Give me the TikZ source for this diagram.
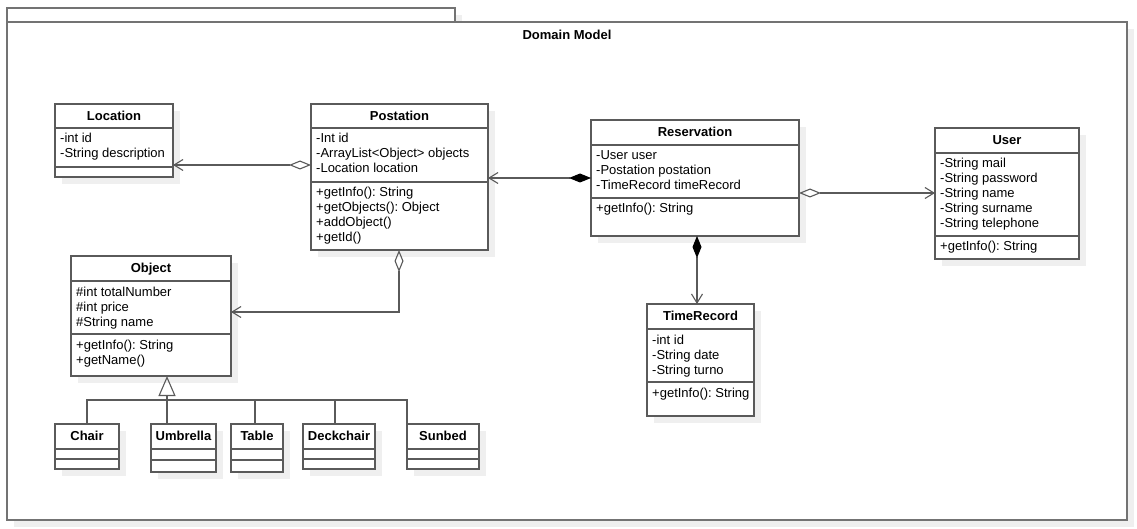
\documentclass[tikz,border=0pt]{standalone}
\usepackage{fontspec}
\setmainfont{Liberation Sans}
\frenchspacing
\usetikzlibrary{arrows.meta,shadows}
\definecolor{shd}{HTML}{EFEFEF}
\definecolor{ln}{HTML}{5A5A5A}
\tikzset{
  box/.style={draw=ln, line width=1.1pt, fill=white, inner sep=0pt, outer sep=0pt, anchor=north west,
    drop shadow={shadow xshift=7pt, shadow yshift=-7pt, fill=shd, opacity=1}},
  frame/.style={box, draw=ln!85},
  sepl/.style={draw=ln, line width=1.1pt},
  ttl/.style={font=\fontsize{13}{15}\selectfont\bfseries, anchor=base, inner sep=0pt},
  txt/.style={font=\fontsize{13}{15}\selectfont, anchor=base west, inner sep=0pt},
  conn/.style={draw=ln, line width=1.1pt},
  assocaggr/.style={conn, {Diamond[open, length=22pt, width=9pt]}-{Straight Barb[length=9pt, width=11pt]}},
  assoccomp/.style={conn, {Diamond[length=22pt, width=9pt, fill=black, color=black]}-{Straight Barb[length=9pt, width=11pt]}},
  gen/.style={conn, -{Triangle[open, length=20pt, width=17pt]}},
}
\begin{document}
\begin{tikzpicture}[x=1pt, y=-1pt]
\useasboundingbox (0,0) rectangle (1137,529);

% frame
\node[frame, minimum width=448pt, minimum height=14pt] (tab) at (7,8) {};
\node[frame, minimum width=1120pt, minimum height=498pt] (frm) at (7,22) {};
\node[ttl] (frmt) at (567,39.5) {Domain Model};

% Location
\node[box, minimum width=118pt, minimum height=73pt] (loc) at (55,104) {};
\draw[sepl] (55,128) -- (173,128) (55,167) -- (173,167);
\node[ttl] at (114,120.5) {Location};
\node[txt] at (60,143) {-int id};
\node[txt] at (60,158) {-String description};

% Postation
\node[box, minimum width=177pt, minimum height=146pt] (post) at (311,104) {};
\draw[sepl] (311,128) -- (488,128) (311,182) -- (488,182);
\node[ttl] at (399.5,120.5) {Postation};
\node[txt] at (316,143) {-Int id};
\node[txt] at (316,158) {-ArrayList<Object> objects};
\node[txt] at (316,173) {-Location location};
\node[txt] at (316,197) {+getInfo(): String};
\node[txt] at (316,212) {+getObjects(): Object};
\node[txt] at (316,227) {+addObject()};
\node[txt] at (316,242) {+getId()};

% Reservation
\node[box, minimum width=208pt, minimum height=116pt] (res) at (591,120) {};
\draw[sepl] (591,145) -- (799,145) (591,198) -- (799,198);
\node[ttl] at (695,136.5) {Reservation};
\node[txt] at (596,160) {-User user};
\node[txt] at (596,175) {-Postation postation};
\node[txt] at (596,190) {-TimeRecord timeRecord};
\node[txt] at (596,213) {+getInfo(): String};

% User
\node[box, minimum width=144pt, minimum height=131pt] (usr) at (935,128) {};
\draw[sepl] (935,153) -- (1079,153) (935,236) -- (1079,236);
\node[ttl] at (1007,144.5) {User};
\node[txt] at (940,167.5) {-String mail};
\node[txt] at (940,182.5) {-String password};
\node[txt] at (940,197.5) {-String name};
\node[txt] at (940,212.5) {-String surname};
\node[txt] at (940,227.5) {-String telephone};
\node[txt] at (940,251) {+getInfo(): String};

% Object
\node[box, minimum width=160pt, minimum height=120pt] (obj) at (71,256) {};
\draw[sepl] (71,281) -- (231,281) (71,334) -- (231,334);
\node[ttl] at (151,272.5) {Object};
\node[txt] at (76,296) {\#int totalNumber};
\node[txt] at (76,311) {\#int price};
\node[txt] at (76,326) {\#String name};
\node[txt] at (76,349.5) {+getInfo(): String};
\node[txt] at (76,364.5) {+getName()};

% TimeRecord
\node[box, minimum width=107pt, minimum height=112pt] (tr) at (647,304) {};
\draw[sepl] (647,329) -- (754,329) (647,382) -- (754,382);
\node[ttl] at (700.5,320.5) {TimeRecord};
\node[txt] at (652,344) {-int id};
\node[txt] at (652,359) {-String date};
\node[txt] at (652,374) {-String turno};
\node[txt] at (652,397) {+getInfo(): String};

% subclasses
\node[box, minimum width=64pt, minimum height=45pt] (chr) at (55,424) {};
\draw[sepl] (55,449) -- (119,449) (55,459) -- (119,459);
\node[ttl] at (87,440.5) {Chair};

\node[box, minimum width=65pt, minimum height=48pt] (umb) at (151,424) {};
\draw[sepl] (151,449) -- (216,449) (151,460) -- (216,460);
\node[ttl] at (183.5,440.5) {Umbrella};

\node[box, minimum width=52pt, minimum height=48pt] (tbl) at (231,424) {};
\draw[sepl] (231,449) -- (283,449) (231,460) -- (283,460);
\node[ttl] at (257,440.5) {Table};

\node[box, minimum width=72pt, minimum height=45pt] (dck) at (303,424) {};
\draw[sepl] (303,449) -- (375,449) (303,459) -- (375,459);
\node[ttl] at (339,440.5) {Deckchair};

\node[box, minimum width=72pt, minimum height=45pt] (sun) at (407,424) {};
\draw[sepl] (407,449) -- (479,449) (407,459) -- (479,459);
\node[ttl] at (443,440.5) {Sunbed};

% connectors
\draw[assocaggr] ([yshift=-61pt]post.north west) -- ([yshift=-61pt]loc.north east);
\draw[assoccomp] ([yshift=-58pt]res.north west) -- ([yshift=-74pt]post.north east);
\draw[assocaggr] ([yshift=-73pt]res.north east) -- ([yshift=-65pt]usr.north west);
\draw[assoccomp] ([xshift=106pt]res.south west) -- ([xshift=50pt]tr.north west);
\draw[assocaggr] ([xshift=88pt]post.south west) |- ([yshift=-56pt]obj.north east);

% generalization
\coordinate (gj) at (167,400);
\draw[gen] (gj) -- ([xshift=96pt]obj.south west);
\draw[conn] (chr.north) |- (gj);
\draw[conn] ([xshift=16pt]umb.north west) -- (gj);
\draw[conn] ([xshift=24pt]tbl.north west) |- (gj);
\draw[conn] ([xshift=32pt]dck.north west) |- (gj);
\draw[conn] (sun.north west) |- (gj);
\end{tikzpicture}
\end{document}
